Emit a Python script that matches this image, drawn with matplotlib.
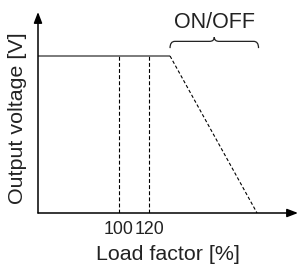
import matplotlib
matplotlib.use("Agg")
import matplotlib.pyplot as plt
from matplotlib.path import Path
from matplotlib.patches import PathPatch
from matplotlib import font_manager

# Chart data (load factor in %, output voltage normalised to rated = 1)
flat_load = [46, 134]
flat_volt = [1.0, 1.0]
mark_loads = [100, 120]
mark_labels = ["100", "120"]
droop_load = [134, 192]
droop_volt = [1.0, 0.0]
brace_span = [134, 193]
brace_label = "ON/OFF"

names = {f.name for f in font_manager.fontManager.ttflist}
main_font = "Liberation Sans" if "Liberation Sans" in names else "DejaVu Sans"
plt.rcParams["font.family"] = [main_font, "DejaVu Sans"]

fig = plt.figure(figsize=(3.0, 2.65), dpi=100)
ax = fig.add_axes([38 / 300, 52 / 265, 260 / 300, 201 / 265])
ax.set_xlim(46, 219.3)
ax.set_ylim(0, 1.28)
for s in ax.spines.values():
    s.set_visible(False)
ax.set_xticks([])
ax.set_yticks([])

# axes with arrows
arrow = dict(arrowstyle="-|>,head_length=0.65,head_width=0.25", color="black", lw=1.1,
             shrinkA=0, shrinkB=0)
ax.annotate("", xy=(1, 0), xytext=(0, 0), xycoords="axes fraction", arrowprops=arrow)
ax.annotate("", xy=(0, 1), xytext=(0, 0), xycoords="axes fraction", arrowprops=arrow)

# rated voltage line
ax.plot(flat_load, flat_volt, color="#7a7a7a", lw=1.4, solid_capstyle="butt")

# dashed markers at 100 % and 120 %
for x in mark_loads:
    ax.plot([x, x], [0, 1.0], color="black", lw=0.8, dashes=(3.5, 2))
    ax.plot([x, x], [-0.012, 0.012], color="black", lw=0.6)

# drooping characteristic
ax.plot(droop_load, droop_volt, color="black", lw=0.8, dashes=(3, 2))

# curly brace
x0, x1 = brace_span
xc = (x0 + x1) / 2
ye, ym, yt = 1.05, 1.093, 1.12
rx = 3.2
verts = [(x0, ye), (x0, ym), (x0 + rx, ym),
         (xc - rx, ym), (xc, ym), (xc, yt),
         (xc, ym), (xc + rx, ym),
         (x1 - rx, ym), (x1, ym), (x1, ye)]
codes = [Path.MOVETO, Path.CURVE3, Path.CURVE3,
         Path.LINETO, Path.CURVE3, Path.CURVE3,
         Path.CURVE3, Path.CURVE3,
         Path.LINETO, Path.CURVE3, Path.CURVE3]
ax.add_patch(PathPatch(Path(verts, codes), fill=False, color="#222222", lw=0.9))
ax.text(xc, 1.215, brace_label, ha="center", va="center", fontsize=15.5, color="#222222")

# tick labels
for x, lab in zip(mark_loads, mark_labels):
    ax.text(x, -0.05, lab, ha="center", va="top", fontsize=12.8, color="#222222")

fig.text(168 / 300, 1 - 255 / 265, "Load factor [%]", ha="center", va="center",
         fontsize=15.4, color="#222222")
fig.text(17.5 / 300, 1 - 118 / 265, "Output voltage [V]", ha="center", va="center",
         rotation=90, fontsize=15.4, color="#222222")

fig.savefig("out.png", dpi=100)
